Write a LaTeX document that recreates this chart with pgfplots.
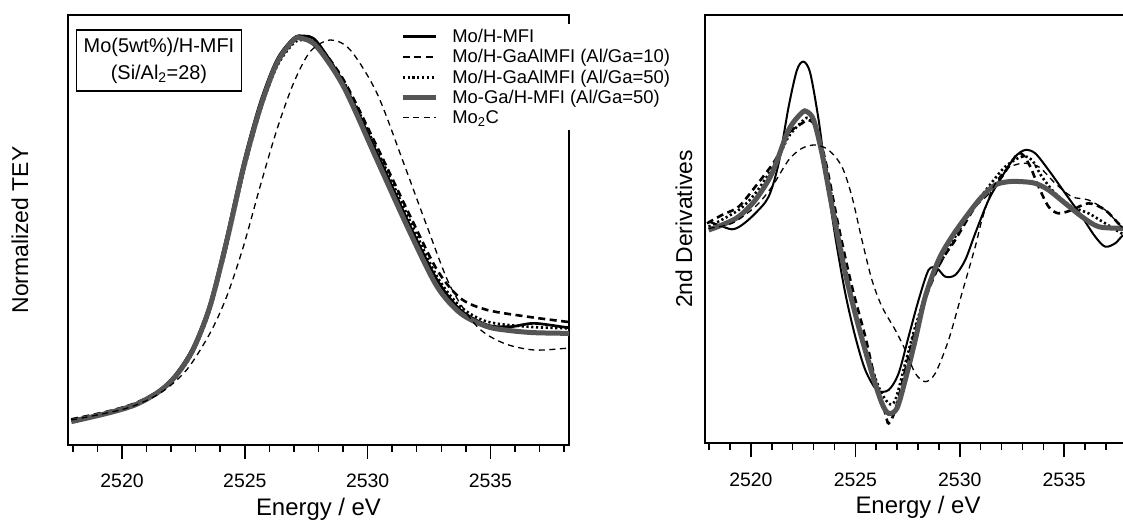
\documentclass[border=0pt]{standalone}
\usepackage{fontspec}
\setmainfont{Liberation Sans}
\usepackage{pgfplots}
\pgfplotsset{compat=1.18}
\definecolor{mogray}{RGB}{85,85,85}
\pgfplotsset{
  sA/.style={black, line width=2.7bp},
  sB/.style={black, line width=2.6bp, dash pattern=on 7bp off 4.5bp},
  sC/.style={black, line width=2.6bp, dash pattern=on 2.2bp off 2.6bp},
  sD/.style={mogray, line width=5bp},
  sE/.style={black, line width=1.3bp, dash pattern=on 6bp off 4.5bp},
  base/.style={
    scale only axis,
    anchor=south west,
    xmin=2517.8, xmax=2538.2,
    xtick={2520,2525,2530,2535},
    minor xtick={2518,2519,...,2538},
    xtick pos=bottom,
    xtick align=outside,
    ytick=\empty,
    major tick length=14bp,
    minor tick length=7bp,
    tick style={black, line width=1.5bp},
    axis line style={line width=1.5bp},
    /pgf/number format/assume math mode=true,
    /pgf/number format/1000 sep={},
    xticklabel style={font=\fontsize{19.5}{20}\selectfont, anchor=base, yshift=-29bp},
    xlabel={Energy / eV},
    every axis x label/.style={at={(axis description cs:0.5,-0.165)}, anchor=base, font=\fontsize{24}{26}\selectfont},
  },
}
\begin{document}
\begin{tikzpicture}
% ---------------- left panel ----------------
\begin{axis}[base, at={(68bp,75bp)}, width=501bp, height=430bp,
  ymin=-0.075, ymax=1.215,
  ylabel={Normalized TEY},
  every axis y label/.style={at={(axis description cs:-0.0798,0.5)}, rotate=90, anchor=base, font=\fontsize{23}{25}\selectfont},
  legend style={at={(axis description cs:0.657,0.979)}, anchor=north west, draw=none, fill=white,
    font=\fontsize{18.5}{20}\selectfont, inner xsep=3bp, inner ysep=3bp, row sep=1.5bp,
    /tikz/every odd column/.append style={column sep=12bp}},
  legend cell align=left,
  legend image code/.code={\draw[#1] (0bp,0bp) -- (33bp,0bp);},
]
\addlegendimage{sA}
\addlegendentry{Mo/H-MFI}
\addlegendimage{sB}
\addlegendentry{Mo/H-GaAlMFI (Al/Ga=10)}
\addlegendimage{sC}
\addlegendentry{Mo/H-GaAlMFI (Al/Ga=50)}
\addlegendimage{sD}
\addlegendentry{Mo-Ga/H-MFI (Al/Ga=50)}
\addlegendimage{sE}
\addlegendentry{Mo\textsubscript{2}C}
\addplot[sA, smooth, tension=0.5, forget plot] coordinates {
(2517.933,0.000) (2518.818,0.012) (2519.498,0.025) (2520.586,0.050) (2521.539,0.090)
(2522.219,0.140) (2522.899,0.220) (2523.579,0.350) (2524.260,0.550) (2524.940,0.770)
(2525.620,0.950) (2526.301,1.080) (2526.981,1.145) (2527.389,1.152) (2527.933,1.135)
(2529.022,1.010) (2530.382,0.800) (2531.743,0.580) (2532.831,0.420) (2533.784,0.330)
(2534.872,0.285) (2535.824,0.280) (2536.777,0.290) (2538.069,0.278) (2538.4,0.278)};
\addplot[sB, smooth, tension=0.5, forget plot] coordinates {
(2517.933,0.002) (2519.498,0.027) (2520.586,0.052) (2521.539,0.090) (2522.219,0.138)
(2522.899,0.215) (2523.579,0.345) (2524.260,0.540) (2524.940,0.760) (2525.620,0.940)
(2526.301,1.070) (2526.981,1.138) (2527.321,1.145) (2527.933,1.128) (2529.022,1.020)
(2530.382,0.820) (2531.743,0.610) (2532.831,0.450) (2533.784,0.365) (2534.872,0.330)
(2536.505,0.310) (2538.069,0.295) (2538.4,0.293)};
\addplot[sC, smooth, tension=0.5, forget plot] coordinates {
(2517.933,0.000) (2519.498,0.022) (2520.586,0.048) (2521.539,0.085) (2522.219,0.130)
(2522.899,0.205) (2523.579,0.330) (2524.260,0.520) (2524.940,0.740) (2525.620,0.925)
(2526.301,1.060) (2526.981,1.130) (2527.389,1.140) (2527.933,1.125) (2529.022,1.015)
(2530.382,0.810) (2531.743,0.595) (2532.831,0.430) (2533.784,0.340) (2534.872,0.295)
(2536.505,0.280) (2538.069,0.275) (2538.4,0.275)};
\addplot[sD, smooth, tension=0.5, forget plot] coordinates {
(2517.933,-0.005) (2519.498,0.022) (2520.586,0.047) (2521.539,0.087) (2522.219,0.135)
(2522.899,0.212) (2523.579,0.340) (2524.260,0.535) (2524.940,0.755) (2525.620,0.935)
(2526.301,1.070) (2526.981,1.140) (2527.321,1.145) (2527.933,1.120) (2529.022,1.000)
(2530.382,0.780) (2531.743,0.560) (2532.831,0.400) (2533.784,0.320) (2534.872,0.280)
(2535.824,0.268) (2536.777,0.262) (2538.069,0.260) (2538.4,0.260)};
\addplot[sE, smooth, tension=0.5, forget plot] coordinates {
(2517.933,0.000) (2520.178,0.035) (2521.539,0.080) (2522.627,0.150) (2523.579,0.260)
(2524.260,0.370) (2524.940,0.520) (2525.620,0.700) (2526.301,0.870) (2526.981,1.010)
(2527.661,1.105) (2528.477,1.140) (2529.294,1.110) (2530.382,0.980) (2531.471,0.770)
(2532.423,0.580) (2533.375,0.400) (2534.464,0.280) (2535.552,0.230) (2536.777,0.210)
(2538.069,0.215) (2538.4,0.216)};
\node[draw, line width=1.3bp, align=center, font=\fontsize{20}{27}\selectfont,
  minimum width=165bp, minimum height=61bp, inner sep=2bp]
  at (axis description cs:0.1816,0.894) {Mo(5wt\%)/H-MFI\\(Si/Al\textsubscript{2}=28)};
\end{axis}
% ---------------- right panel ----------------
\begin{axis}[base, at={(705bp,77bp)}, width=426bp, height=428bp,
  ymin=-6.39, ymax=6.45,
  ylabel={2nd Derivatives},
  every axis y label/.style={at={(axis description cs:-0.0305,0.5)}, rotate=90, anchor=base, font=\fontsize{23}{25}\selectfont},
]
\addplot[black, line width=2bp, smooth, tension=0.5] coordinates {
(2517.975,0.25) (2518.454,0.15) (2519.092,0.02) (2519.571,0.15) (2520.209,0.50)
(2520.848,1.00) (2521.326,2.00) (2521.805,3.70) (2522.204,4.80) (2522.523,5.05)
(2522.842,4.70) (2523.241,3.30) (2523.560,1.80) (2524.039,-0.20) (2524.518,-1.90)
(2524.996,-3.20) (2525.475,-4.20) (2526.033,-4.80) (2526.592,-4.80) (2527.071,-4.30)
(2527.549,-3.20) (2528.028,-2.10) (2528.507,-1.20) (2528.906,-1.15) (2529.305,-1.40)
(2529.783,-1.35) (2530.262,-0.90) (2530.741,-0.10) (2531.379,0.90) (2532.017,1.60)
(2532.656,2.20) (2533.134,2.40) (2533.613,2.30) (2534.251,1.80) (2535.049,1.10)
(2535.847,0.40) (2536.485,-0.20) (2536.964,-0.50) (2537.442,-0.40) (2537.746,-0.20)
(2538.2,0.00)};
\addplot[sB, smooth, tension=0.5] coordinates {
(2517.896,0.20) (2518.614,0.45) (2519.412,0.70) (2520.209,1.30) (2521.167,2.10)
(2521.805,2.90) (2522.443,3.20) (2522.762,3.30) (2523.082,3.10) (2523.560,2.10)
(2524.199,0.10) (2524.837,-1.70) (2525.475,-3.20) (2525.954,-4.50) (2526.432,-5.50)
(2526.592,-5.80) (2526.911,-5.40) (2527.390,-4.20) (2527.869,-3.00) (2528.507,-1.80)
(2529.145,-0.90) (2529.783,-0.30) (2530.741,0.70) (2531.379,1.10) (2532.017,1.60)
(2532.815,2.30) (2533.294,2.00) (2533.773,1.30) (2534.251,0.70) (2534.730,0.50)
(2535.368,0.60) (2536.166,0.80) (2536.964,0.60) (2537.746,0.10) (2538.2,-0.10)};
\addplot[sC, smooth, tension=0.5] coordinates {
(2517.975,0.10) (2519.412,0.60) (2520.209,1.10) (2521.167,2.00) (2521.805,2.80)
(2522.523,3.30) (2522.762,3.35) (2523.082,3.10) (2523.560,2.00) (2524.199,-0.10)
(2524.837,-2.00) (2525.475,-3.50) (2526.113,-4.70) (2526.592,-5.20) (2526.911,-5.10)
(2527.390,-4.00) (2527.869,-2.90) (2528.507,-1.70) (2529.145,-0.90) (2529.783,-0.20)
(2530.581,0.60) (2531.379,1.30) (2532.177,1.90) (2532.975,2.20) (2533.453,2.10)
(2533.932,1.60) (2534.570,1.10) (2535.368,0.70) (2536.166,0.50) (2536.964,0.20)
(2537.746,-0.10) (2538.2,-0.20)};
\addplot[sD, smooth, tension=0.5] coordinates {
(2517.975,0.00) (2518.614,0.15) (2519.412,0.40) (2520.209,0.90) (2521.007,1.70)
(2521.805,3.00) (2522.443,3.52) (2522.683,3.55) (2523.002,3.30) (2523.401,2.30)
(2523.879,0.70) (2524.518,-1.30) (2525.156,-2.90) (2525.794,-4.30) (2526.273,-5.20)
(2526.592,-5.50) (2526.991,-5.35) (2527.390,-4.50) (2527.869,-3.30) (2528.347,-2.00)
(2528.985,-0.90) (2529.624,-0.20) (2530.422,0.50) (2531.060,1.00) (2531.698,1.35)
(2532.336,1.45) (2532.975,1.45) (2533.613,1.40) (2534.251,1.20) (2535.049,0.80)
(2535.847,0.40) (2536.645,0.10) (2537.746,0.05) (2538.2,0.05)};
\addplot[sE, smooth, tension=0.5] coordinates {
(2517.975,0.05) (2519.092,0.20) (2520.209,0.70) (2521.007,1.30) (2521.805,2.10)
(2522.443,2.45) (2523.082,2.55) (2523.720,2.40) (2524.358,1.90) (2524.837,1.00)
(2525.315,-0.30) (2525.794,-1.50) (2526.273,-2.30) (2526.911,-3.00) (2527.390,-3.60)
(2527.869,-4.30) (2528.347,-4.55) (2528.826,-4.30) (2529.464,-3.30) (2530.103,-1.90)
(2530.741,-0.50) (2531.060,0.30) (2531.539,1.20) (2532.177,1.80) (2532.975,2.00)
(2533.773,1.90) (2534.570,1.40) (2535.368,1.00) (2536.166,0.90) (2536.964,0.60)
(2537.746,0.10) (2538.2,-0.10)};
\end{axis}
\pgfresetboundingbox
\useasboundingbox (0,0) rectangle (1123bp,520bp);
\end{tikzpicture}
\end{document}
